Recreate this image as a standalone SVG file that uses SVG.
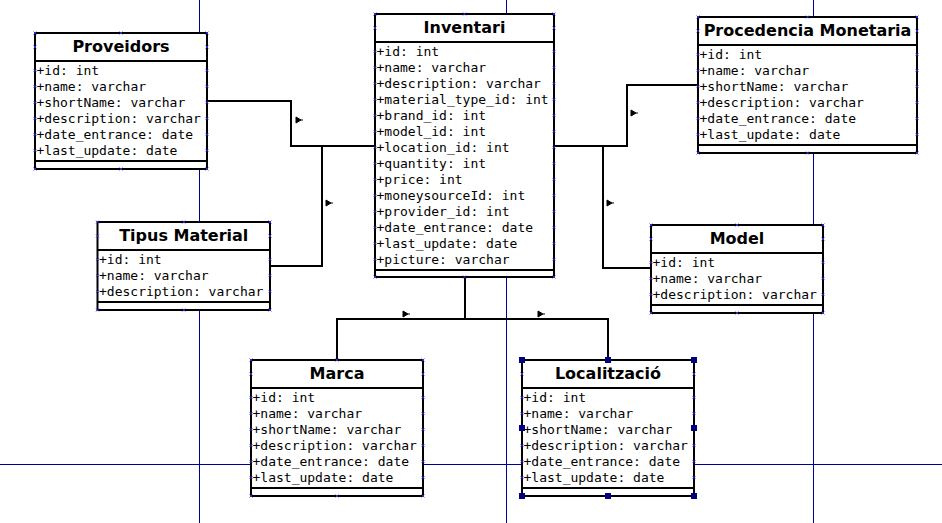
<svg xmlns="http://www.w3.org/2000/svg" xmlns:xlink="http://www.w3.org/1999/xlink" width="942" height="523" viewBox="0 0 942 523">
<style>
.box{fill:#fff;stroke:#000;stroke-width:2}
.sep{stroke:#000;stroke-width:2}
.title{font-family:"DejaVu Sans","Liberation Sans",sans-serif;font-weight:bold;font-size:16px;text-anchor:middle;fill:#000}
.attr{font-family:"DejaVu Sans Mono","Liberation Mono",monospace;font-size:13px;fill:#000}
.guide{stroke:#000099;stroke-width:1;fill:none}
.conn{stroke:#000;stroke-width:2;fill:none}
.cps{fill:none;stroke:none;marker-start:url(#cp);marker-mid:url(#cp);marker-end:url(#cp)}
.handle{fill:#000080}
</style>
<defs>
<marker id="cp" markerUnits="userSpaceOnUse" markerWidth="6" markerHeight="6" refX="0" refY="0" viewBox="-3 -3 6 6" overflow="visible">
<path d="M-1.5,-1.5 L1.5,1.5 M-1.5,1.5 L1.5,-1.5" stroke="#3333ff" stroke-width="0.8" fill="none"/>
</marker>
<path id="arr" d="M0,-3 L5,0 L0,3 Z M5,0 H7" fill="#000" stroke="#000" stroke-width="1"/>
</defs>
<rect width="942" height="523" fill="#fff"/>
<g id="guides">
<line class="guide" x1="199.5" y1="0" x2="199.5" y2="523"/>
<line class="guide" x1="506.5" y1="0" x2="506.5" y2="523"/>
<line class="guide" x1="813.5" y1="0" x2="813.5" y2="523"/>
<line class="guide" x1="0" y1="464.5" x2="942" y2="464.5"/>
</g>
<g id="connectors">
<path class="conn" d="M207,101 H291 V146 H375"/>
<path class="conn" d="M270,266 H322 V146"/>
<path class="conn" d="M554,146 H627 V85 H698"/>
<path class="conn" d="M603,146 V268 H651"/>
<path class="conn" d="M465,277 V319"/>
<path class="conn" d="M337,360 V319 H608 V360"/>
<use xlink:href="#arr" x="296" y="120"/>
<use xlink:href="#arr" x="326" y="203"/>
<use xlink:href="#arr" x="631" y="113"/>
<use xlink:href="#arr" x="607" y="203"/>
<use xlink:href="#arr" x="403" y="314"/>
<use xlink:href="#arr" x="538" y="314"/>
</g>
<g id="proveidors">
<rect class="box" x="35" y="33" width="172" height="136"/>
<line class="sep" x1="35" y1="61" x2="207" y2="61"/>
<line class="sep" x1="35" y1="161" x2="207" y2="161"/>
<text class="title" x="121" y="51.5">Proveidors</text>
<text class="attr" x="36.5" y="75">+id: int</text>
<text class="attr" x="36.5" y="91">+name: varchar</text>
<text class="attr" x="36.5" y="107">+shortName: varchar</text>
<text class="attr" x="36.5" y="123">+description: varchar</text>
<text class="attr" x="36.5" y="139">+date_entrance: date</text>
<text class="attr" x="36.5" y="155">+last_update: date</text>
<polyline class="cps" points="35,33 121,33 207,33 207,47 207,70.5 207,86.5 207,102.5 207,118.5 207,134.5 207,150.5 207,169 121,169 35,169 35,150.5 35,134.5 35,118.5 35,102.5 35,86.5 35,70.5 35,47"/>
</g>
<g id="inventari">
<rect class="box" x="375" y="14" width="179" height="263"/>
<line class="sep" x1="375" y1="42" x2="554" y2="42"/>
<line class="sep" x1="375" y1="270" x2="554" y2="270"/>
<text class="title" x="464.5" y="32.5">Inventari</text>
<text class="attr" x="376.5" y="56">+id: int</text>
<text class="attr" x="376.5" y="72">+name: varchar</text>
<text class="attr" x="376.5" y="88">+description: varchar</text>
<text class="attr" x="376.5" y="104">+material_type_id: int</text>
<text class="attr" x="376.5" y="120">+brand_id: int</text>
<text class="attr" x="376.5" y="136">+model_id: int</text>
<text class="attr" x="376.5" y="152">+location_id: int</text>
<text class="attr" x="376.5" y="168">+quantity: int</text>
<text class="attr" x="376.5" y="184">+price: int</text>
<text class="attr" x="376.5" y="200">+moneysourceId: int</text>
<text class="attr" x="376.5" y="216">+provider_id: int</text>
<text class="attr" x="376.5" y="232">+date_entrance: date</text>
<text class="attr" x="376.5" y="248">+last_update: date</text>
<text class="attr" x="376.5" y="264">+picture: varchar</text>
<polyline class="cps" points="375,14 464.5,14 554,14 554,28 554,51.5 554,67.5 554,83.5 554,99.5 554,115.5 554,131.5 554,147.5 554,163.5 554,179.5 554,195.5 554,211.5 554,227.5 554,243.5 554,259.5 554,277 464.5,277 375,277 375,259.5 375,243.5 375,227.5 375,211.5 375,195.5 375,179.5 375,163.5 375,147.5 375,131.5 375,115.5 375,99.5 375,83.5 375,67.5 375,51.5 375,28"/>
</g>
<g id="procedencia">
<rect class="box" x="698" y="17" width="219" height="136"/>
<line class="sep" x1="698" y1="45" x2="917" y2="45"/>
<line class="sep" x1="698" y1="145" x2="917" y2="145"/>
<text class="title" x="807.5" y="35.5">Procedencia Monetaria</text>
<text class="attr" x="699.5" y="59">+id: int</text>
<text class="attr" x="699.5" y="75">+name: varchar</text>
<text class="attr" x="699.5" y="91">+shortName: varchar</text>
<text class="attr" x="699.5" y="107">+description: varchar</text>
<text class="attr" x="699.5" y="123">+date_entrance: date</text>
<text class="attr" x="699.5" y="139">+last_update: date</text>
<polyline class="cps" points="698,17 807.5,17 917,17 917,31 917,54.5 917,70.5 917,86.5 917,102.5 917,118.5 917,134.5 917,153 807.5,153 698,153 698,134.5 698,118.5 698,102.5 698,86.5 698,70.5 698,54.5 698,31"/>
</g>
<g id="tipus-material">
<rect class="box" x="97.5" y="222" width="172.5" height="88"/>
<line class="sep" x1="97.5" y1="250" x2="270" y2="250"/>
<line class="sep" x1="97.5" y1="302" x2="270" y2="302"/>
<text class="title" x="183.75" y="240.5">Tipus Material</text>
<text class="attr" x="99" y="264">+id: int</text>
<text class="attr" x="99" y="280">+name: varchar</text>
<text class="attr" x="99" y="296">+description: varchar</text>
<polyline class="cps" points="97.5,222 183.75,222 270,222 270,236 270,259.5 270,275.5 270,291.5 270,310 183.75,310 97.5,310 97.5,291.5 97.5,275.5 97.5,259.5 97.5,236"/>
</g>
<g id="model">
<rect class="box" x="651" y="225" width="172" height="88"/>
<line class="sep" x1="651" y1="253" x2="823" y2="253"/>
<line class="sep" x1="651" y1="305" x2="823" y2="305"/>
<text class="title" x="737" y="243.5">Model</text>
<text class="attr" x="652.5" y="267">+id: int</text>
<text class="attr" x="652.5" y="283">+name: varchar</text>
<text class="attr" x="652.5" y="299">+description: varchar</text>
<polyline class="cps" points="651,225 737,225 823,225 823,239 823,262.5 823,278.5 823,294.5 823,313 737,313 651,313 651,294.5 651,278.5 651,262.5 651,239"/>
</g>
<g id="marca">
<rect class="box" x="251" y="360" width="172" height="136"/>
<line class="sep" x1="251" y1="388" x2="423" y2="388"/>
<line class="sep" x1="251" y1="488" x2="423" y2="488"/>
<text class="title" x="337" y="378.5">Marca</text>
<text class="attr" x="252.5" y="402">+id: int</text>
<text class="attr" x="252.5" y="418">+name: varchar</text>
<text class="attr" x="252.5" y="434">+shortName: varchar</text>
<text class="attr" x="252.5" y="450">+description: varchar</text>
<text class="attr" x="252.5" y="466">+date_entrance: date</text>
<text class="attr" x="252.5" y="482">+last_update: date</text>
<polyline class="cps" points="251,360 337,360 423,360 423,374 423,397.5 423,413.5 423,429.5 423,445.5 423,461.5 423,477.5 423,496 337,496 251,496 251,477.5 251,461.5 251,445.5 251,429.5 251,413.5 251,397.5 251,374"/>
</g>
<g id="localitzacio">
<rect class="box" x="522" y="360" width="172" height="136"/>
<line class="sep" x1="522" y1="388" x2="694" y2="388"/>
<line class="sep" x1="522" y1="488" x2="694" y2="488"/>
<text class="title" x="608" y="378.5">Localització</text>
<text class="attr" x="523.5" y="402">+id: int</text>
<text class="attr" x="523.5" y="418">+name: varchar</text>
<text class="attr" x="523.5" y="434">+shortName: varchar</text>
<text class="attr" x="523.5" y="450">+description: varchar</text>
<text class="attr" x="523.5" y="466">+date_entrance: date</text>
<text class="attr" x="523.5" y="482">+last_update: date</text>
<polyline class="cps" points="694,374 694,397.5 694,413.5 694,445.5 694,461.5 694,477.5 522,477.5 522,461.5 522,445.5 522,413.5 522,397.5 522,374"/>
<rect class="handle" x="519" y="357" width="6" height="6"/>
<rect class="handle" x="605" y="357" width="6" height="6"/>
<rect class="handle" x="691" y="357" width="6" height="6"/>
<rect class="handle" x="519" y="425" width="6" height="6"/>
<rect class="handle" x="691" y="425" width="6" height="6"/>
<rect class="handle" x="519" y="493" width="6" height="6"/>
<rect class="handle" x="605" y="493" width="6" height="6"/>
<rect class="handle" x="691" y="493" width="6" height="6"/>
</g>
</svg>
